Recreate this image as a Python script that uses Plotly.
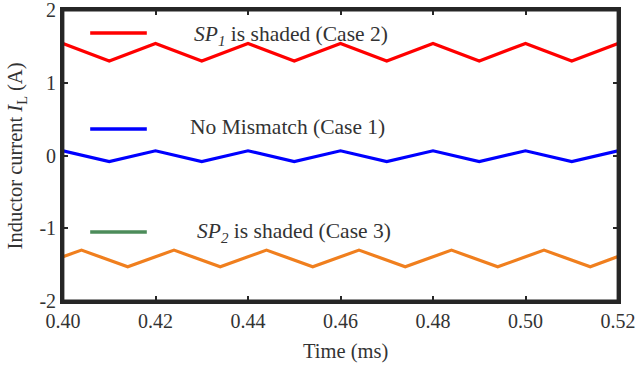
import plotly.graph_objects as go

# ---- data ----
t_red = [0.40, 0.41, 0.42, 0.43, 0.44, 0.45, 0.46, 0.47, 0.48, 0.49, 0.50, 0.51, 0.52]
i_red = [1.54, 1.30, 1.54, 1.30, 1.54, 1.30, 1.54, 1.30, 1.54, 1.30, 1.54, 1.30, 1.54]

t_blue = [0.40, 0.41, 0.42, 0.43, 0.44, 0.45, 0.46, 0.47, 0.48, 0.49, 0.50, 0.51, 0.52]
i_blue = [0.065, -0.085, 0.065, -0.085, 0.065, -0.085, 0.065, -0.085, 0.065, -0.085, 0.065, -0.085, 0.065]

t_orange = [0.40, 0.404, 0.414, 0.424, 0.434, 0.444, 0.454, 0.464, 0.474, 0.484, 0.494, 0.504, 0.514, 0.52]
i_orange = [-1.39, -1.30, -1.53, -1.30, -1.53, -1.30, -1.53, -1.30, -1.53, -1.30, -1.53, -1.30, -1.53, -1.39]

x_ticks = [0.40, 0.42, 0.44, 0.46, 0.48, 0.50, 0.52]
x_tick_labels = ["0.40", "0.42", "0.44", "0.46", "0.48", "0.50", "0.52"]
y_ticks = [-2, -1, 0, 1, 2]
y_tick_labels = ["-2", "-1", "0", "1", "2"]

legend_labels = ["<i>SP</i><sub><i>1</i></sub> is shaded (Case 2)",
                 "No Mismatch (Case 1)",
                 "<i>SP</i><sub><i>2</i></sub> is shaded (Case 3)"]
x_title = "Time (ms)"
y_title = "Inductor current <i>I</i><sub>L</sub> (A)"

FONT = "Liberation Serif"
TXT = "#333333"
AX = "#262626"
FS_LEG = 21.5
FS_TICK = 20
FS_TITLE = 20.5

fig = go.Figure()
fig.add_trace(go.Scatter(x=t_red, y=i_red, mode="lines",
                         line=dict(color="#ff0000", width=3.2), showlegend=False))
fig.add_trace(go.Scatter(x=t_blue, y=i_blue, mode="lines",
                         line=dict(color="#0000ff", width=3.2), showlegend=False))
fig.add_trace(go.Scatter(x=t_orange, y=i_orange, mode="lines",
                         line=dict(color="#f07f1e", width=3.2), showlegend=False))

# manual legend
leg = [
    (0.921, "#ff0000", 0.232, 0.914, legend_labels[0]),
    (0.591, "#0000ff", 0.226, 0.597, legend_labels[1]),
    (0.237, "#4c8c5a", 0.237, 0.234, legend_labels[2]),
]
for ly, col, tx, ty, lab in leg:
    fig.add_shape(type="line", xref="paper", yref="paper",
                  x0=0.049, x1=0.151, y0=ly, y1=ly,
                  line=dict(color=col, width=3.5))
    fig.add_annotation(xref="paper", yref="paper", x=tx, y=ty,
                       xanchor="left", yanchor="middle", showarrow=False,
                       text=lab, font=dict(family=FONT, size=FS_LEG, color=TXT))

# full axes box
fig.add_shape(type="rect", xref="paper", yref="paper", x0=0, x1=1, y0=0, y1=1,
              line=dict(color=AX, width=2.8), layer="above")

# axis titles
fig.add_annotation(xref="paper", yref="paper", x=0.509, y=-0.175,
                   xanchor="center", yanchor="middle", showarrow=False,
                   text=x_title, font=dict(family=FONT, size=FS_TITLE, color=TXT))
fig.add_annotation(xref="paper", yref="paper", x=-0.083, y=0.5,
                   xanchor="center", yanchor="middle", showarrow=False, textangle=-90,
                   text=y_title, font=dict(family=FONT, size=FS_TITLE, color=TXT))

fig.update_layout(
    width=640, height=371,
    margin=dict(l=63, r=22, t=10, b=70, autoexpand=False),
    paper_bgcolor="white", plot_bgcolor="white",
    font=dict(family=FONT, size=FS_TICK, color=TXT),
)
fig.update_xaxes(range=[0.40, 0.52], tickvals=x_ticks, ticktext=x_tick_labels,
                 ticks="inside", ticklen=5, tickwidth=2, tickcolor=AX,
                 showline=True, linewidth=2.8, linecolor=AX, mirror="allticks",
                 showgrid=False, zeroline=False, automargin=False,
                 ticklabeloverflow="allow",
                 tickfont=dict(family=FONT, size=FS_TICK, color=TXT))
fig.update_yaxes(range=[-2, 2], tickvals=y_ticks, ticktext=y_tick_labels,
                 ticks="inside", ticklen=5, tickwidth=2, tickcolor=AX,
                 showline=True, linewidth=2.8, linecolor=AX, mirror="allticks",
                 showgrid=False, zeroline=False, automargin=False,
                 ticklabeloverflow="allow",
                 tickfont=dict(family=FONT, size=FS_TICK, color=TXT))

# remove the default 8px page margin so the 640x371 figure fills the window
fig.write_html("out.html", config={"displayModeBar": False},
               post_script="document.body.style.margin='0';")
